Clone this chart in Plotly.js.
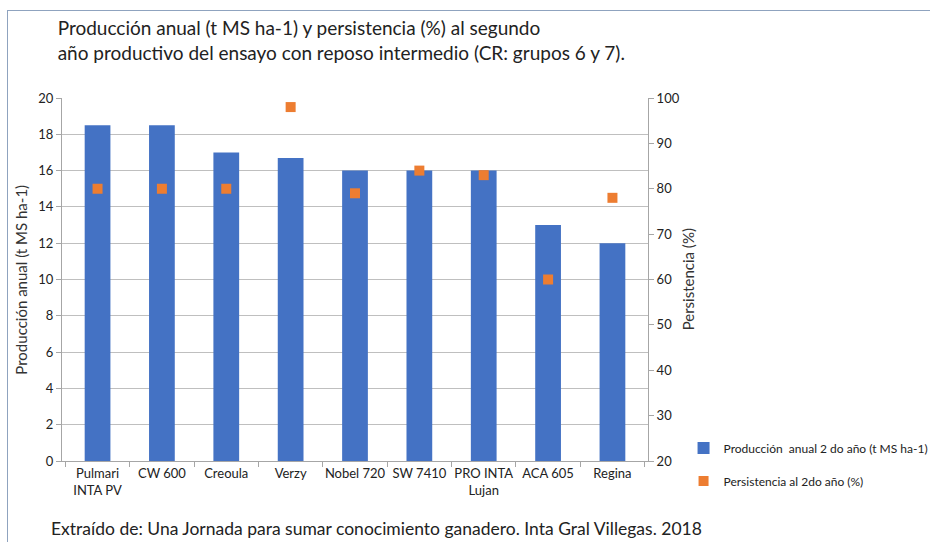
<!DOCTYPE html>
<html>
<head>
<meta charset="utf-8">
<script src="https://cdn.plot.ly/plotly-3.0.1.min.js"></script>
<style>
html,body{margin:0;padding:0;background:#fff;}
#wrap{position:relative;width:930px;height:542px;}
#chart{width:930px;height:542px;}
#frame{position:absolute;left:7px;top:10px;width:923px;height:532px;border-top:1.5px solid #8fa3bf;border-left:1.5px solid #8fa3bf;pointer-events:none;}
</style>
</head>
<body>
<div id="wrap"><div id="chart"></div><div id="frame"></div></div>
<script>
const categories = ["Pulmari<br>INTA PV", "CW 600", "Creoula", "Verzy", "Nobel 720", "SW 7410", "PRO INTA<br>Lujan", "ACA 605", "Regina"];
const produccion = [18.5, 18.5, 17.0, 16.7, 16.0, 16.0, 16.0, 13.0, 12.0];
const persistencia = [80, 80, 80, 98, 79, 84, 83, 60, 78];
const yLeftTicks = [0, 2, 4, 6, 8, 10, 12, 14, 16, 18, 20];
const yRightTicks = [20, 30, 40, 50, 60, 70, 80, 90, 100];

const FONT = "Lato, 'Open Sans', sans-serif";

const traces = [
  {
    type: "bar", x: categories, y: produccion,
    name: "Producción  anual 2 do año (t MS ha-1)",
    marker: {color: "#4472C4"}, width: 0.4, legendgroup: "a",
    yaxis: "y"
  },
  {
    type: "scatter", mode: "markers", x: categories, y: persistencia,
    name: "Persistencia al 2do año (%)",
    marker: {color: "#ED7D31", symbol: "square", size: 10}, legendgroup: "b",
    yaxis: "y2"
  }
];

const layout = {
  width: 930, height: 542,
  margin: {l: 62, r: 282, t: 98, b: 81, autoexpand: false},
  paper_bgcolor: "#fff", plot_bgcolor: "#fff",
  font: {family: FONT, color: "#333", size: 12},
  title: {
    text: "Producción anual (t MS ha-1) y persistencia (%) al segundo<br>año productivo del ensayo con reposo intermedio (CR: grupos 6 y 7).",
    x: 0.062, xanchor: "left", y: 0.935, yanchor: "top",
    font: {family: FONT, size: 19, color: "#222"}
  },
  bargap: 0.6,
  xaxis: {
    showline: true, linecolor: "#a6a6a6", linewidth: 1,
    ticks: "outside", tickson: "boundaries", ticklen: 5, tickcolor: "#a6a6a6",
    tickangle: 0, automargin: false,
    tickfont: {size: 13, color: "#222"}, fixedrange: true
  },
  yaxis: {
    range: [0, 20], tickvals: yLeftTicks, automargin: false,
    showline: true, linecolor: "#a6a6a6", gridcolor: "#bfbfbf",
    ticks: "outside", ticklen: 5, tickcolor: "#a6a6a6",
    tickfont: {size: 13, color: "#222"}, zeroline: false
  },
  yaxis2: {
    range: [20, 100], tickvals: yRightTicks, overlaying: "y", side: "right",
    automargin: false,
    showline: true, linecolor: "#a6a6a6", showgrid: false,
    ticks: "outside", ticklen: 5, tickcolor: "#a6a6a6",
    tickfont: {size: 13, color: "#222"}, zeroline: false
  },
  showlegend: true,
  legend: {
    xref: "container", yref: "container",
    x: 0.735, xanchor: "left", y: 0.2, yanchor: "top",
    traceorder: "grouped", tracegroupgap: 14,
    font: {size: 12, color: "#222"}, itemwidth: 30,
    bgcolor: "rgba(0,0,0,0)"
  },
  annotations: [
    {
      text: "Extraído de: Una Jornada para sumar conocimiento ganadero. Inta Gral Villegas. 2018",
      xref: "paper", yref: "paper", x: -0.022, y: -0.185, xanchor: "left", yanchor: "middle",
      showarrow: false, font: {family: FONT, size: 17.5, color: "#222"}
    },
    {
      text: "Producción anual (t MS ha-1)", textangle: -90,
      xref: "paper", yref: "paper", x: -0.0714, y: 0.5, xanchor: "center", yanchor: "middle",
      showarrow: false, font: {family: FONT, size: 15, color: "#333"}
    },
    {
      text: "Persistencia (%)", textangle: -90,
      xref: "paper", yref: "paper", x: 1.068, y: 0.5, xanchor: "center", yanchor: "middle",
      showarrow: false, font: {family: FONT, size: 15, color: "#333"}
    }
  ]
};

Plotly.newPlot("chart", traces, layout, {displayModeBar: false, staticPlot: true});
</script>
</body>
</html>
